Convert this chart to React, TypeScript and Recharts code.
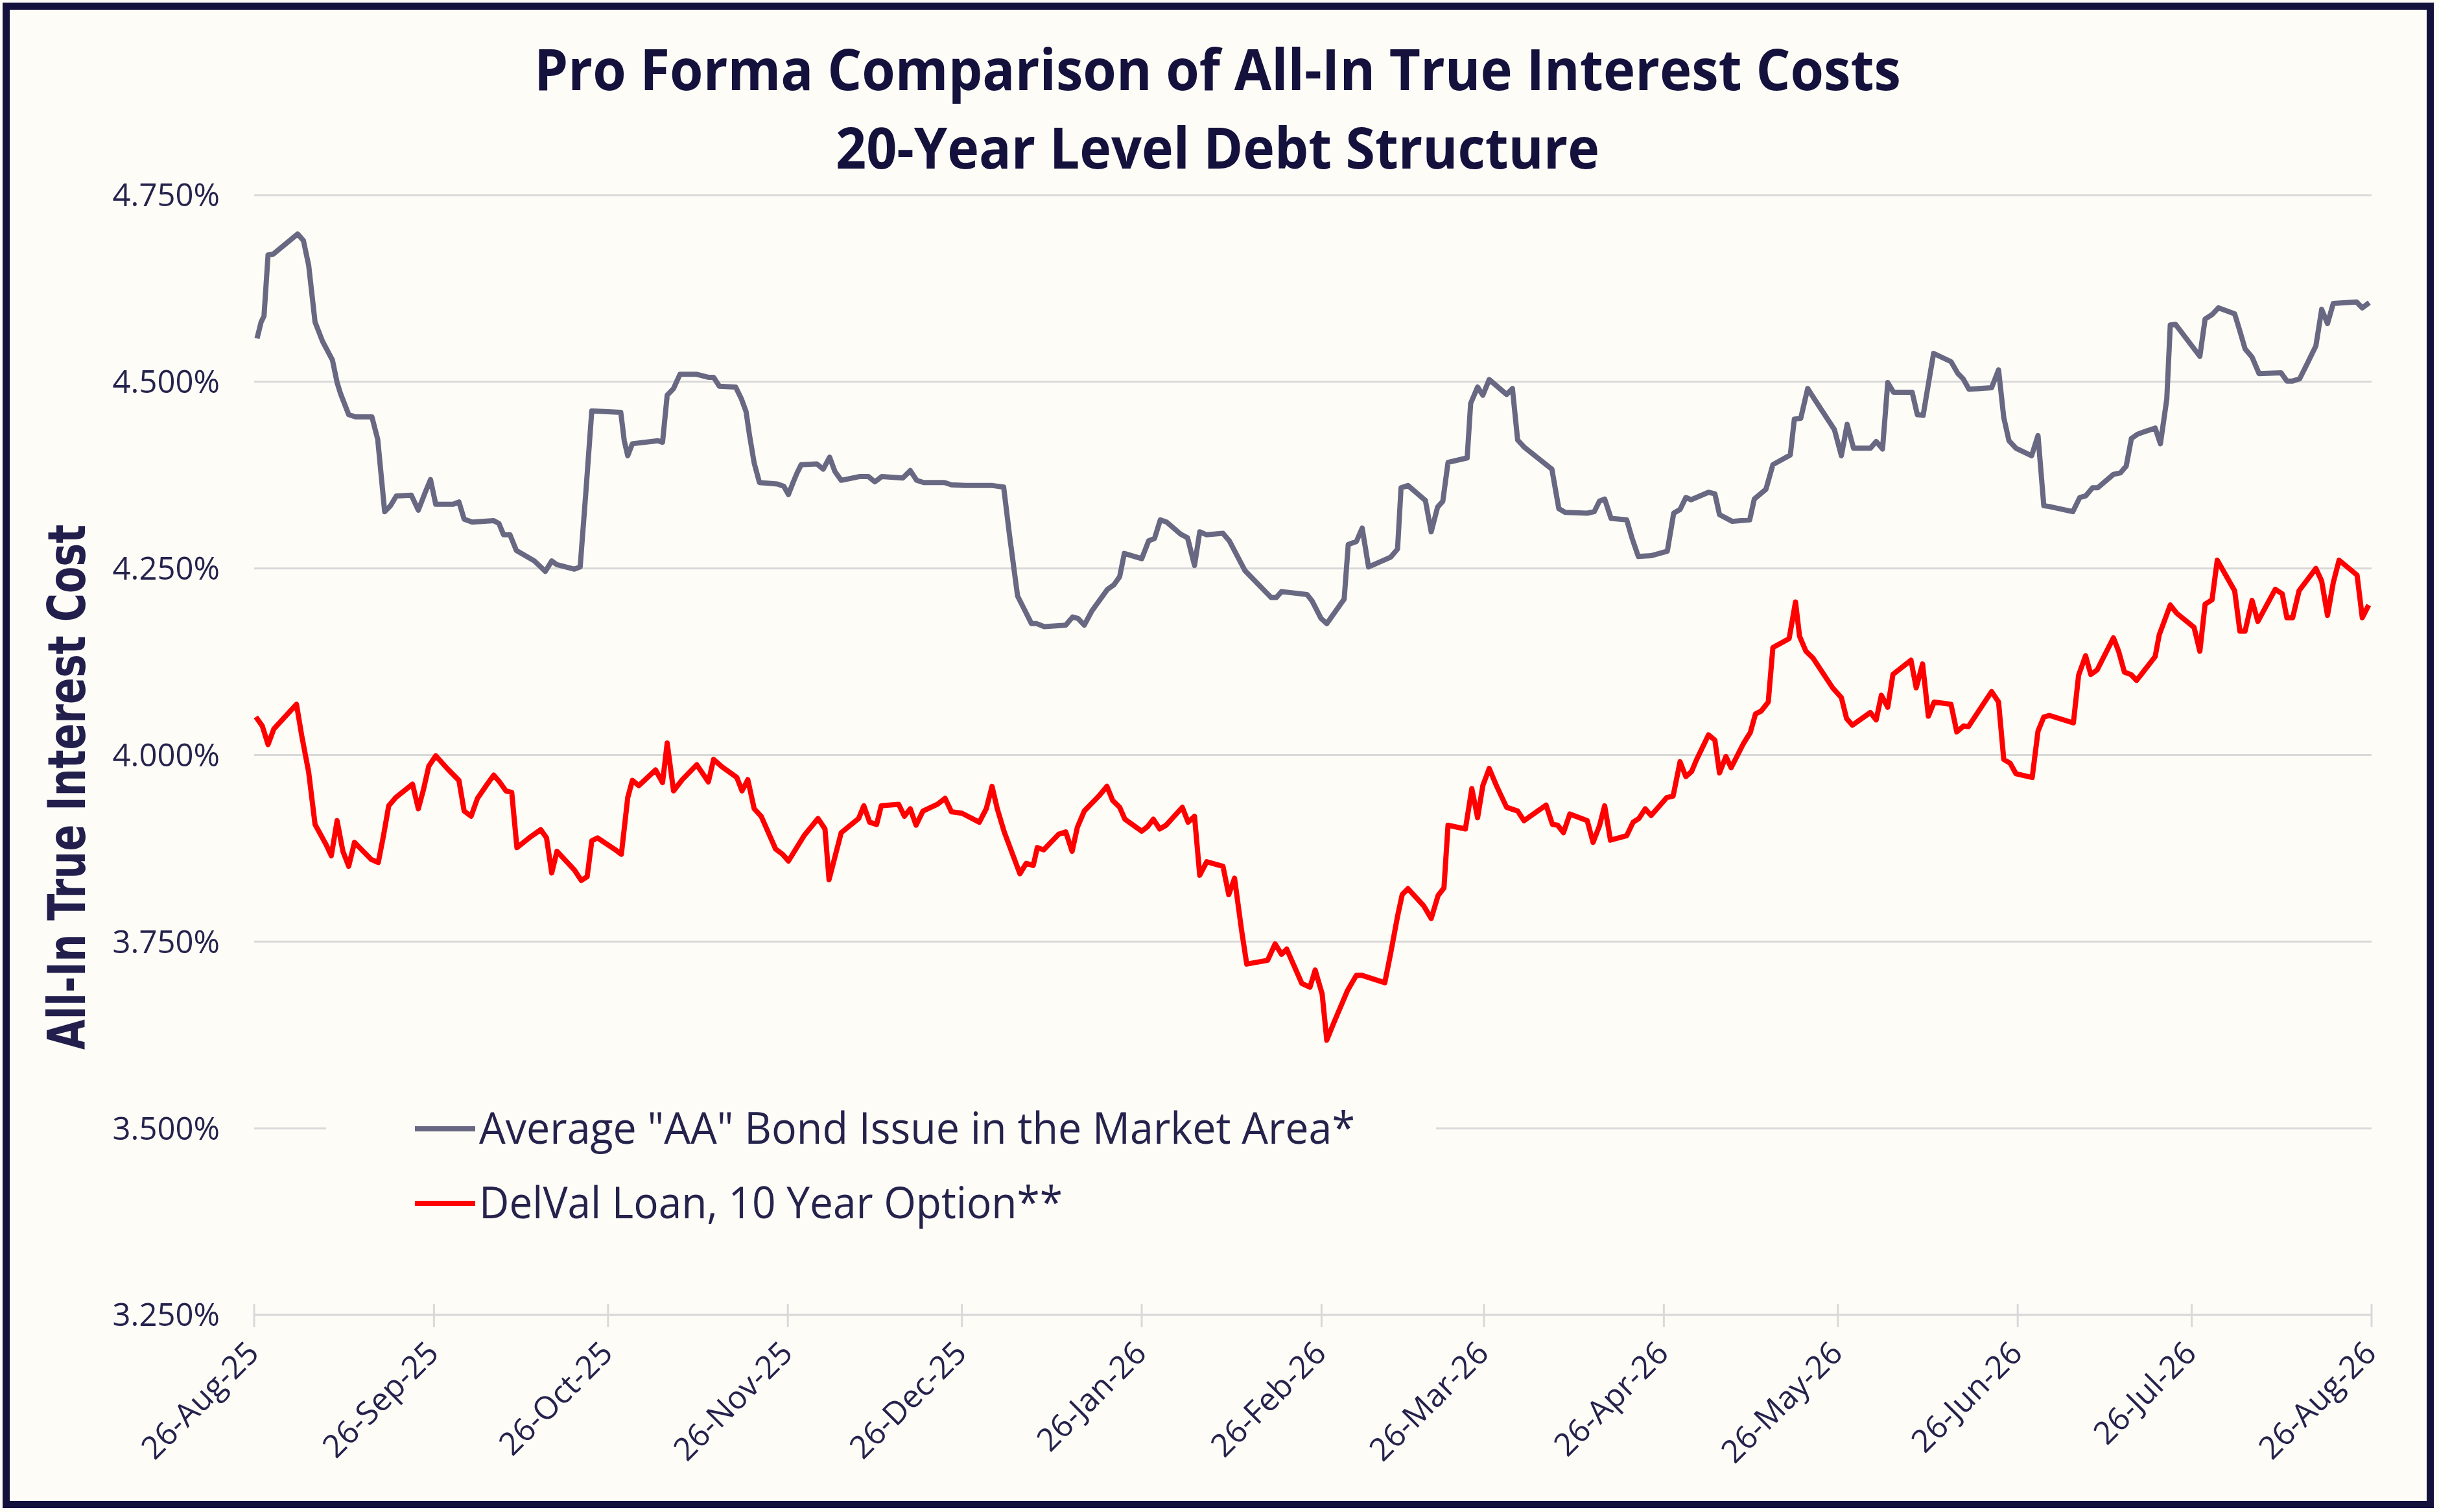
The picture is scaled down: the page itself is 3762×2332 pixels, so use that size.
import { LineChart, Line, XAxis, YAxis, CartesianGrid, Legend } from "recharts";

const WIDTH = 3762;
const HEIGHT = 2332;
const BG = "#FDFCF7";
const NAVY = "#14113D";
const TEXT = "#25224C";
const GRID = "#D9D9D9";
const FONT = "'Open Sans', 'Noto Sans', sans-serif";

// series names and colours
const SERIES_NAMES = [
  'Average "AA" Bond Issue in the Market Area*',
  "DelVal Loan, 10 Year Option**",
];
const SERIES_COLORS = ["#686882", "#FF0000"];

// x axis: days after 26-Aug-25
const TICK_DAYS = [0, 31, 61, 92, 122, 153, 184, 212, 243, 273, 304, 334, 365];
const TICK_LABELS = [
  "26-Aug-25", "26-Sep-25", "26-Oct-25", "26-Nov-25", "26-Dec-25", "26-Jan-26",
  "26-Feb-26", "26-Mar-26", "26-Apr-26", "26-May-26", "26-Jun-26", "26-Jul-26",
  "26-Aug-26",
];
const Y_TICKS = [3.25, 3.5, 3.75, 4.0, 4.25, 4.5, 4.75];

// [day, all-in TIC %]
const AA_POINTS: [number, number][] = [
  [0.5, 4.558], [1.2, 4.58], [1.7, 4.588], [2.4, 4.67], [3.3, 4.671], [7.5, 4.698], [8.5, 4.689],
  [9.4, 4.656], [10.5, 4.58], [11.8, 4.554], [13.5, 4.529], [14.3, 4.499], [14.9, 4.484], [16.3, 4.456],
  [17.5, 4.453], [20.3, 4.453], [21.3, 4.423], [22.5, 4.326], [23.5, 4.334], [24.5, 4.347], [27.1, 4.348],
  [28.3, 4.328], [29.5, 4.352], [30.4, 4.369], [31.3, 4.336], [34.3, 4.336], [35.3, 4.339], [36.2, 4.316],
  [37.6, 4.312], [41.3, 4.314], [42.2, 4.31], [43.0, 4.295], [44.1, 4.295], [45.2, 4.274], [48.3, 4.26],
  [49.4, 4.252], [50.2, 4.246], [51.3, 4.26], [52.2, 4.255], [55.2, 4.249], [56.2, 4.252], [57.2, 4.354],
  [58.2, 4.461], [63.2, 4.459], [63.8, 4.421], [64.4, 4.401], [65.2, 4.417], [69.6, 4.421], [70.4, 4.419],
  [71.2, 4.482], [72.3, 4.491], [73.4, 4.51], [76.3, 4.51], [78.3, 4.506], [79.2, 4.506], [80.2, 4.494],
  [83.0, 4.493], [84.0, 4.477], [84.8, 4.46], [85.4, 4.428], [86.2, 4.391], [87.1, 4.365], [90.2, 4.363],
  [91.3, 4.36], [92.1, 4.349], [93.0, 4.367], [93.6, 4.378], [94.3, 4.389], [97.0, 4.39], [98.1, 4.383],
  [99.2, 4.399], [100.1, 4.38], [101.2, 4.368], [104.3, 4.373], [105.9, 4.373], [107.0, 4.366],
  [108.2, 4.373], [111.8, 4.371], [113.1, 4.381], [114.2, 4.368], [115.4, 4.365], [119.0, 4.365],
  [120.2, 4.362], [122.6, 4.361], [127.3, 4.361], [129.2, 4.359], [130.2, 4.295], [131.6, 4.213],
  [132.9, 4.193], [134.0, 4.176], [134.9, 4.176], [136.2, 4.172], [139.9, 4.174], [141.1, 4.185],
  [142.0, 4.183], [143.1, 4.174], [144.4, 4.193], [147.1, 4.222], [148.2, 4.228], [149.2, 4.239],
  [150.0, 4.27], [153.0, 4.263], [154.2, 4.287], [155.2, 4.29], [156.2, 4.315], [157.3, 4.312],
  [159.7, 4.296], [160.9, 4.291], [162.1, 4.254], [163.0, 4.299], [164.2, 4.295], [167.0, 4.297],
  [168.1, 4.287], [170.8, 4.247], [175.3, 4.211], [176.2, 4.211], [177.1, 4.219], [181.5, 4.215],
  [182.4, 4.206], [183.9, 4.183], [184.9, 4.176], [187.9, 4.209], [188.6, 4.282], [190.0, 4.286],
  [191.0, 4.304], [192.1, 4.252], [195.9, 4.265], [197.1, 4.276], [197.7, 4.358], [198.9, 4.361],
  [201.9, 4.341], [202.9, 4.299], [204.0, 4.332], [204.9, 4.34], [205.8, 4.392], [209.1, 4.398],
  [209.7, 4.471], [210.9, 4.493], [211.8, 4.482], [212.9, 4.503], [215.9, 4.483], [216.9, 4.491],
  [217.8, 4.422], [219.0, 4.412], [223.7, 4.383], [224.9, 4.33], [226.0, 4.325], [229.8, 4.324],
  [231.0, 4.326], [231.9, 4.34], [232.8, 4.343], [233.9, 4.317], [236.6, 4.315], [237.5, 4.291],
  [238.6, 4.266], [240.8, 4.267], [243.6, 4.273], [244.7, 4.324], [245.8, 4.329], [246.8, 4.345],
  [247.7, 4.342], [250.7, 4.352], [251.8, 4.35], [252.6, 4.322], [254.8, 4.313], [257.8, 4.315],
  [258.6, 4.343], [260.6, 4.356], [261.8, 4.389], [264.8, 4.402], [265.5, 4.45], [266.6, 4.451],
  [267.8, 4.491], [268.7, 4.48], [272.4, 4.436], [273.6, 4.401], [274.6, 4.443], [275.7, 4.411],
  [278.6, 4.411], [279.6, 4.42], [280.7, 4.41], [281.6, 4.499], [282.6, 4.486], [285.8, 4.486],
  [286.7, 4.456], [287.7, 4.455], [288.8, 4.506], [289.5, 4.538], [292.5, 4.527], [293.7, 4.511],
  [294.6, 4.504], [295.6, 4.49], [299.5, 4.492], [300.7, 4.516], [301.6, 4.452], [302.5, 4.421],
  [303.7, 4.411], [306.4, 4.401], [307.5, 4.428], [308.5, 4.334], [309.4, 4.333], [313.5, 4.326],
  [314.7, 4.345], [315.7, 4.347], [316.9, 4.358], [317.8, 4.358], [320.5, 4.376], [321.7, 4.378],
  [322.7, 4.387], [323.6, 4.424], [324.7, 4.43], [327.7, 4.438], [328.6, 4.417], [329.7, 4.477],
  [330.3, 4.576], [331.2, 4.577], [335.4, 4.534], [336.3, 4.584], [337.5, 4.59], [338.6, 4.599],
  [341.4, 4.591], [342.3, 4.568], [343.2, 4.544], [344.4, 4.533], [345.6, 4.511], [349.4, 4.512],
  [350.4, 4.501], [351.4, 4.501], [352.6, 4.504], [353.7, 4.521], [355.4, 4.548], [356.4, 4.597],
  [357.4, 4.578], [358.4, 4.605], [362.4, 4.607], [363.4, 4.599], [364.6, 4.606],
];

const DELVAL_POINTS: [number, number][] = [
  [0.3, 4.051], [1.4, 4.039], [2.4, 4.014], [3.4, 4.035], [7.3, 4.068], [8.2, 4.026], [9.4, 3.977],
  [10.5, 3.907], [12.4, 3.88], [13.3, 3.865], [14.3, 3.912], [15.3, 3.871], [16.3, 3.851], [17.3, 3.883],
  [20.2, 3.86], [21.4, 3.856], [22.3, 3.892], [23.2, 3.932], [24.4, 3.943], [27.3, 3.961], [28.3, 3.928],
  [29.2, 3.954], [30.1, 3.985], [31.3, 3.999], [33.4, 3.981], [35.3, 3.966], [36.2, 3.925], [37.4, 3.918],
  [38.5, 3.942], [40.0, 3.959], [41.3, 3.973], [42.3, 3.964], [43.4, 3.952], [44.4, 3.95], [45.3, 3.876],
  [47.4, 3.889], [49.4, 3.9], [50.4, 3.889], [51.3, 3.842], [52.2, 3.871], [55.2, 3.846], [56.4, 3.832],
  [57.4, 3.837], [58.2, 3.885], [59.2, 3.889], [62.1, 3.874], [63.3, 3.867], [64.4, 3.943], [65.2, 3.966],
  [66.3, 3.959], [69.2, 3.98], [70.4, 3.963], [71.2, 4.016], [72.3, 3.952], [73.8, 3.967], [76.3, 3.987],
  [78.3, 3.964], [79.2, 3.994], [80.7, 3.984], [83.2, 3.97], [84.1, 3.952], [85.1, 3.967], [86.2, 3.928],
  [87.4, 3.918], [89.9, 3.874], [91.1, 3.867], [92.1, 3.858], [94.8, 3.892], [97.2, 3.915], [98.4, 3.901],
  [99.1, 3.833], [100.3, 3.869], [101.2, 3.896], [104.2, 3.915], [105.1, 3.932], [106.1, 3.91],
  [107.3, 3.907], [108.1, 3.932], [111.1, 3.934], [112.1, 3.918], [113.1, 3.928], [114.1, 3.906],
  [115.3, 3.925], [117.8, 3.934], [119.1, 3.942], [120.2, 3.924], [122.0, 3.922], [125.0, 3.91],
  [126.2, 3.928], [127.2, 3.958], [128.1, 3.928], [129.3, 3.897], [132.0, 3.841], [133.1, 3.855],
  [134.3, 3.852], [135.0, 3.876], [136.1, 3.873], [138.7, 3.894], [139.9, 3.897], [141.0, 3.871],
  [141.9, 3.903], [143.1, 3.925], [145.6, 3.945], [147.0, 3.958], [148.0, 3.939], [149.2, 3.93],
  [150.1, 3.914], [153.0, 3.898], [154.0, 3.904], [155.0, 3.914], [156.1, 3.901], [157.2, 3.906],
  [160.0, 3.93], [161.0, 3.91], [162.1, 3.918], [163.0, 3.839], [164.2, 3.857], [167.0, 3.851],
  [168.0, 3.813], [169.0, 3.835], [170.2, 3.766], [171.1, 3.72], [174.7, 3.725], [176.0, 3.747],
  [177.1, 3.733], [178.0, 3.74], [180.6, 3.694], [182.0, 3.689], [182.9, 3.712], [184.1, 3.68],
  [184.9, 3.618], [186.1, 3.641], [188.5, 3.685], [190.0, 3.705], [190.9, 3.705], [192.1, 3.702],
  [194.9, 3.695], [195.9, 3.734], [197.1, 3.784], [197.9, 3.813], [198.9, 3.821], [201.6, 3.798],
  [202.9, 3.781], [204.1, 3.812], [205.1, 3.822], [205.8, 3.906], [208.8, 3.901], [209.9, 3.955],
  [210.9, 3.916], [211.8, 3.959], [212.9, 3.982], [214.2, 3.958], [215.9, 3.93], [217.8, 3.925],
  [218.9, 3.912], [222.7, 3.933], [223.8, 3.907], [224.7, 3.906], [225.7, 3.896], [226.8, 3.921],
  [229.8, 3.912], [230.8, 3.883], [231.9, 3.905], [232.8, 3.932], [233.8, 3.886], [236.6, 3.892],
  [237.7, 3.91], [238.7, 3.915], [239.8, 3.928], [240.8, 3.919], [243.5, 3.943], [244.6, 3.945],
  [245.8, 3.991], [246.8, 3.971], [247.8, 3.978], [248.6, 3.993], [250.7, 4.027], [251.8, 4.02],
  [252.6, 3.976], [253.7, 3.998], [254.6, 3.983], [256.7, 4.015], [257.9, 4.03], [258.8, 4.055],
  [259.8, 4.059], [261.0, 4.071], [261.8, 4.144], [264.6, 4.156], [265.7, 4.205], [266.4, 4.159],
  [267.5, 4.139], [268.7, 4.13], [272.1, 4.09], [273.6, 4.077], [274.5, 4.049], [275.5, 4.04],
  [278.6, 4.057], [279.6, 4.047], [280.5, 4.08], [281.6, 4.064], [282.5, 4.108], [285.6, 4.127],
  [286.5, 4.09], [287.6, 4.122], [288.6, 4.052], [289.6, 4.071], [292.5, 4.068], [293.5, 4.031],
  [294.7, 4.039], [295.5, 4.038], [299.5, 4.085], [300.7, 4.071], [301.6, 3.994], [302.7, 3.989],
  [303.7, 3.975], [306.5, 3.97], [307.5, 4.032], [308.5, 4.051], [309.5, 4.053], [313.6, 4.043],
  [314.5, 4.107], [315.7, 4.133], [316.6, 4.108], [317.7, 4.114], [320.5, 4.157], [321.4, 4.139],
  [322.4, 4.111], [323.5, 4.108], [324.5, 4.1], [327.7, 4.132], [328.4, 4.161], [330.3, 4.201],
  [331.4, 4.19], [334.4, 4.171], [335.4, 4.139], [336.3, 4.202], [337.5, 4.208], [338.4, 4.261],
  [341.4, 4.22], [342.3, 4.166], [343.2, 4.166], [344.4, 4.207], [345.4, 4.179], [348.4, 4.222],
  [349.6, 4.216], [350.4, 4.184], [351.4, 4.184], [352.5, 4.22], [355.4, 4.25], [356.4, 4.233],
  [357.4, 4.187], [358.4, 4.231], [359.4, 4.261], [362.5, 4.241], [363.4, 4.184], [364.5, 4.201],
];

const aaData = AA_POINTS.map(([day, rate]) => ({ day, rate }));
const delvalData = DELVAL_POINTS.map(([day, rate]) => ({ day, rate }));

// legend text widths in px, so the substitute font spans what Calibri did
const LEGEND_TEXT_WIDTHS = [1351, 900];

function DateTick(props: any) {
  const { x, y, payload } = props;
  const label = TICK_LABELS[TICK_DAYS.indexOf(payload.value)];
  const tx = x + 10;
  const ty = y + 62;
  return (
    <g>
      <line x1={x} x2={x} y1={y - 17} y2={y + 19} stroke={GRID} strokeWidth={3} />
      <text
        x={tx}
        y={ty}
        transform={`rotate(-45 ${tx} ${ty})`}
        textAnchor="end"
        fill={TEXT}
        fontSize={49}
        fontFamily={FONT}
      >
        {label}
      </text>
    </g>
  );
}

function LegendBox(props: any) {
  const items = props.payload || [];
  return (
    <svg width={1712} height={235} style={{ display: "block" }}>
      {items.map((item: any, i: number) => {
        const cy = 53 + i * 115;
        return (
          <g key={item.value}>
            <line x1={137} x2={230} y1={cy} y2={cy} stroke={item.color} strokeWidth={8} />
            <text
              x={236}
              y={cy + 23}
              fill={TEXT}
              fontSize={68}
              fontFamily={FONT}
              textLength={LEGEND_TEXT_WIDTHS[i]}
              lengthAdjust="spacingAndGlyphs"
            >
              {item.value}
            </text>
          </g>
        );
      })}
    </svg>
  );
}

export default function App() {
  return (
    <div
      style={{
        position: "absolute",
        left: 0,
        top: 0,
        width: WIDTH,
        height: HEIGHT,
        background: BG,
        overflow: "hidden",
      }}
    >
      <LineChart
        width={WIDTH}
        height={HEIGHT}
        margin={{ top: 301, right: 104, bottom: 54, left: 152 }}
      >
        <CartesianGrid vertical={false} stroke={GRID} strokeWidth={3} />
        <XAxis
          dataKey="day"
          type="number"
          domain={[0, 365]}
          ticks={TICK_DAYS}
          interval={0}
          height={250}
          axisLine={{ stroke: GRID, strokeWidth: 3 }}
          tickLine={false}
          tickSize={0}
          tickMargin={0}
          tick={<DateTick />}
        />
        <YAxis
          type="number"
          domain={[3.25, 4.75]}
          ticks={Y_TICKS}
          width={240}
          axisLine={false}
          tickLine={false}
          tickSize={0}
          tickMargin={53}
          tick={{ fill: TEXT, fontSize: 49, fontFamily: FONT }}
          tickFormatter={(v: number) => `${v.toFixed(3)}%`}
        />
        <Legend
          layout="vertical"
          align="center"
          verticalAlign="middle"
          content={<LegendBox />}
          wrapperStyle={{ left: 503, top: 1688, width: 1712, height: 235, background: BG }}
        />
        <Line
          data={aaData}
          dataKey="rate"
          name={SERIES_NAMES[0]}
          type="linear"
          stroke={SERIES_COLORS[0]}
          strokeWidth={8}
          strokeLinejoin="round"
          dot={false}
          isAnimationActive={false}
        />
        <Line
          data={delvalData}
          dataKey="rate"
          name={SERIES_NAMES[1]}
          type="linear"
          stroke={SERIES_COLORS[1]}
          strokeWidth={8}
          strokeLinejoin="round"
          dot={false}
          isAnimationActive={false}
        />
      </LineChart>

      <svg
        width={WIDTH}
        height={HEIGHT}
        style={{ position: "absolute", left: 0, top: 0, pointerEvents: "none" }}
      >
        <text
          x={1878}
          y={139}
          textAnchor="middle"
          fill={NAVY}
          fontSize={88}
          fontWeight={700}
          fontFamily={FONT}
          textLength={2108}
          lengthAdjust="spacingAndGlyphs"
        >
          Pro Forma Comparison of All-In True Interest Costs
        </text>
        <text
          x={1878}
          y={260}
          textAnchor="middle"
          fill={NAVY}
          fontSize={88}
          fontWeight={700}
          fontFamily={FONT}
          textLength={1178}
          lengthAdjust="spacingAndGlyphs"
        >
          20-Year Level Debt Structure
        </text>
        <text
          x={131}
          y={1214}
          transform="rotate(-90 131 1214)"
          textAnchor="middle"
          fill="#221F4C"
          fontSize={80}
          fontWeight={700}
          fontFamily="'DejaVu Sans', Verdana, sans-serif"
          textLength={810}
          lengthAdjust="spacingAndGlyphs"
        >
          All-In True Interest Cost
        </text>
      </svg>

      <div
        style={{
          position: "absolute",
          left: 4,
          top: 4,
          width: 3750,
          height: 2322,
          boxSizing: "border-box",
          border: `11px solid ${NAVY}`,
          pointerEvents: "none",
        }}
      />
    </div>
  );
}
